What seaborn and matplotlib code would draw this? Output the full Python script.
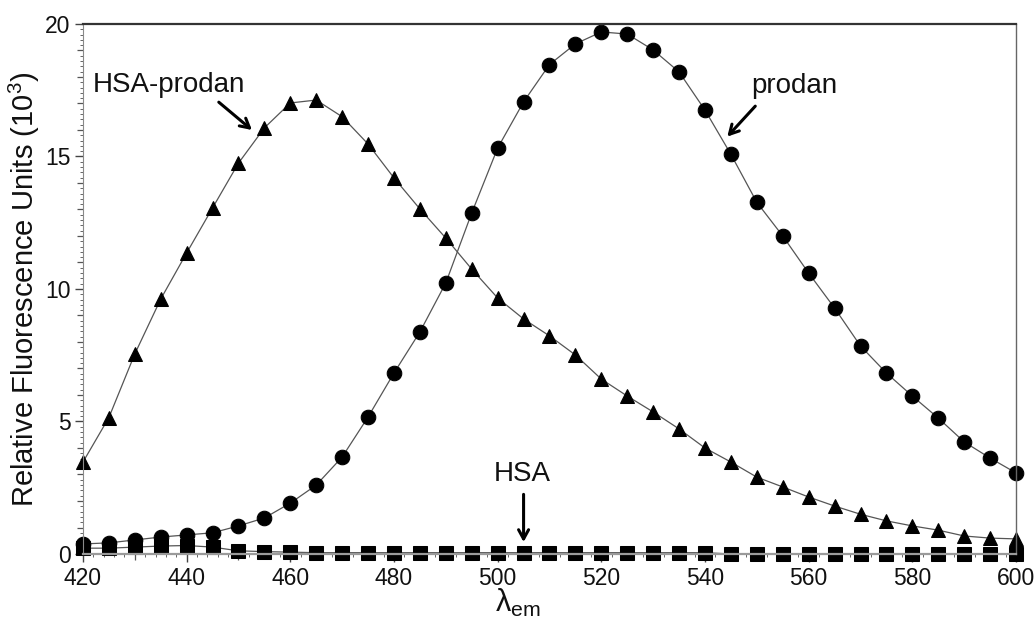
import numpy as np
import pandas as pd
import matplotlib
matplotlib.use("Agg")
import matplotlib.pyplot as plt
import seaborn as sns

# Emission wavelengths (nm)
wavelength = [420, 425, 430, 435, 440, 445, 450, 455, 460, 465,
              470, 475, 480, 485, 490, 495, 500, 505, 510, 515,
              520, 525, 530, 535, 540, 545, 550, 555, 560, 565,
              570, 575, 580, 585, 590, 595, 600]

# Relative fluorescence (x10^3)
prodan = [0.38, 0.42, 0.53, 0.64, 0.72, 0.80, 1.06, 1.36, 1.92, 2.60,
          3.66, 5.17, 6.83, 8.38, 10.23, 12.87, 15.32, 17.06, 18.47, 19.25,
          19.70, 19.62, 19.02, 18.19, 16.75, 15.08, 13.27, 12.00, 10.60, 9.28,
          7.85, 6.83, 5.96, 5.13, 4.23, 3.62, 3.06]

hsa_prodan = [3.47, 5.15, 7.55, 9.62, 11.36, 13.06, 14.75, 16.08, 17.02, 17.13,
              16.50, 15.47, 14.19, 13.02, 11.92, 10.75, 9.66, 8.87, 8.23, 7.51,
              6.60, 5.96, 5.36, 4.72, 4.00, 3.47, 2.90, 2.53, 2.15, 1.81,
              1.50, 1.25, 1.06, 0.90, 0.68, 0.60, 0.57]

hsa = [0.22, 0.22, 0.26, 0.30, 0.32, 0.26, 0.12, 0.09, 0.07, 0.05,
       0.05, 0.05, 0.05, 0.05, 0.05, 0.05, 0.05, 0.05, 0.05, 0.05,
       0.05, 0.05, 0.05, 0.05, 0.05, 0.00, 0.00, 0.00, 0.00, 0.00,
       0.00, 0.00, 0.00, 0.00, 0.00, 0.00, 0.00]

sns.set_theme(style="ticks")
plt.rcParams["font.family"] = ["Liberation Sans", "DejaVu Sans"]
plt.rcParams["mathtext.default"] = "regular"

df = pd.DataFrame({"wl": wavelength, "prodan": prodan,
                   "hsa_prodan": hsa_prodan, "hsa": hsa})

fig = plt.figure(figsize=(10.36, 6.33), dpi=100)
ax = fig.add_axes([0.0801, 0.1248, 0.9006, 0.8373])

line_kw = dict(color="#555555", linewidth=0.9, markerfacecolor="black",
               markeredgecolor="black", clip_on=False)
sns.lineplot(data=df, x="wl", y="hsa", marker="s", markersize=9.5, ax=ax,
             **line_kw)
sns.lineplot(data=df, x="wl", y="prodan", marker="o", markersize=10.5, ax=ax,
             **line_kw)
sns.lineplot(data=df, x="wl", y="hsa_prodan", marker="^", markersize=10.5,
             ax=ax, **line_kw)

ax.set_xlim(420, 600)
ax.set_ylim(0, 20)

# Spines
ax.spines["top"].set_color("#333333")
ax.spines["top"].set_linewidth(1.6)
ax.spines["right"].set_color("#666666")
ax.spines["right"].set_linewidth(1.0)
ax.spines["bottom"].set_color("#9a9a9a")
ax.spines["bottom"].set_linewidth(1.6)
ax.spines["left"].set_color("#8a8a8a")
ax.spines["left"].set_linewidth(0.8)

# Ticks
ax.set_xticks(np.arange(420, 601, 20))
ax.set_xticks(np.arange(420, 601, 10), minor=True)
ax.set_yticks(np.arange(0, 21, 5))
ax.set_yticks(np.arange(0, 21, 1), minor=True)
ax.tick_params(axis="both", which="major", direction="out", length=6,
               width=1.0, color="#444444", labelsize=16.5, labelcolor="#111111",
               pad=3)
ax.tick_params(axis="both", which="minor", direction="out", length=4,
               width=0.9, color="#555555")
ax.tick_params(top=False, right=False, which="both")

# Fine tick marks along both axes
sec_y = ax.secondary_yaxis("left")
sec_y.set_yticks(np.arange(0, 20.01, 0.2))
sec_y.tick_params(length=2, width=0.7, color="#666666", labelleft=False)
sec_y.spines["left"].set_visible(False)
sec_x = ax.secondary_xaxis("bottom")
sec_x.set_xticks(np.arange(420, 601, 2))
sec_x.tick_params(length=2, width=0.7, color="#666666", labelbottom=False)
sec_x.spines["bottom"].set_visible(False)

ax.set_ylabel("Relative Fluorescence Units (10$^{3}$)", fontsize=21,
              color="#111111")
ax.yaxis.set_label_coords(-0.044, 0.5)
ax.set_xlabel("λ$_{em}$", fontsize=22, color="#111111", va="top")
ax.xaxis.set_label_coords(0.466, -0.062)

# Curve labels with arrows
arrow = dict(arrowstyle="->,head_length=0.55,head_width=0.3", lw=2.2,
             color="black", shrinkA=0, shrinkB=0)
ax.text(421.9, 17.7, "HSA-prodan", fontsize=20, ha="left", va="center",
        color="#111111")
ax.annotate("", xy=(452.6, 16.0), xytext=(446.2, 17.05), arrowprops=arrow)

ax.text(549.0, 17.65, "prodan", fontsize=20, ha="left", va="center",
        color="#111111")
ax.annotate("", xy=(544.3, 15.75), xytext=(549.7, 16.9), arrowprops=arrow)

ax.text(504.8, 3.0, "HSA", fontsize=20, ha="center", va="center",
        color="#111111")
ax.annotate("", xy=(505.0, 0.45), xytext=(505.0, 2.25), arrowprops=arrow)

fig.savefig("out.png", dpi=100)
